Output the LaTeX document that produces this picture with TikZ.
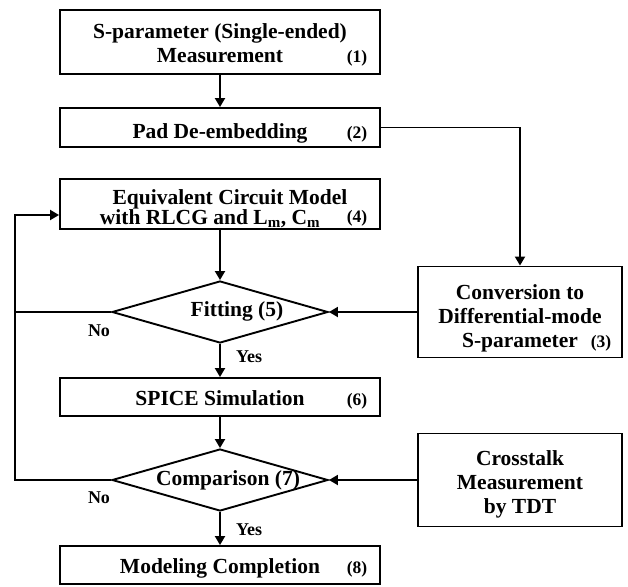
\documentclass[tikz,border=0pt]{standalone}
\usepackage{fontspec}
\setmainfont{Liberation Serif}
\usetikzlibrary{shapes.geometric,arrows.meta}
\newcommand{\stepFont}[0]{\bfseries\fontsize{21.5}{24}\selectfont}
\newcommand{\numFont}[0]{\bfseries\fontsize{17.5}{20}\selectfont}
\newcommand{\ansFont}[0]{\bfseries\fontsize{18}{20}\selectfont}

\begin{document}
\begin{tikzpicture}[x=1pt, y=-1pt, line width=1.9pt]
  \tikzset{stepbox/.style={draw,rectangle,minimum width=320pt,inner sep=0pt,align=center,font=\stepFont},
           sidebox/.style={stepbox,minimum width=204pt},
           test/.style={draw,diamond,minimum width=216pt,minimum height=62pt,inner sep=0pt},
           steptext/.style={inner sep=0pt,anchor=base,font=\stepFont},
           stepnum/.style={inner sep=0pt,anchor=base,font=\numFont},
           answer/.style={inner sep=0pt,anchor=base,font=\ansFont},
           arr/.style={-{Triangle[length=9pt,width=10pt]}}}
  \useasboundingbox (0,0) rectangle (628,586);
  \node[stepbox,minimum height=64pt,text height=42pt,text depth=0pt] (b1) at (220,42) {S-parameter (Single-ended)\\Measurement};
  \node[stepbox,minimum height=39pt,text height=21pt,text depth=0pt] (b2) at (220,127.5) {Pad De-embedding};
  \node[stepbox,minimum height=50pt,text height=40pt,text depth=0pt,font=\bfseries\fontsize{21.5}{20}\selectfont] (b4) at (220,204)
       {\hspace*{20pt}Equivalent Circuit Model\\with RLCG and L\textsubscript{m}, C\textsubscript{m}\hspace*{20pt}};
  \node[test] (d5) at (220,312) {};
  \node[steptext] (t5) at (237,316) {Fitting (5)};
  \node[stepbox,minimum height=38pt,text height=16pt,text depth=0pt] (b6) at (220,397) {SPICE Simulation};
  \node[test] (d7) at (220,480) {};
  \node[steptext] (t7) at (228,485) {Comparison (7)};
  \node[stepbox,minimum height=38pt,text height=16pt,text depth=0pt] (b8) at (220,565) {Modeling Completion};
  \node[sidebox,minimum height=91pt,text height=70pt,text depth=0pt] (b3) at (520,312) {Conversion to\\Differential-mode\\S-parameter};
  \node[sidebox,minimum height=93pt,text height=66pt,text depth=0pt] (b9) at (520,480) {Crosstalk\\Measurement\\by TDT};
  \node[stepnum] (n1) at (357,63) {(1)};
  \node[stepnum] (n2) at (357,138) {(2)};
  \node[stepnum] (n3) at (601,347) {(3)};
  \node[stepnum] (n4) at (357,222) {(4)};
  \node[stepnum] (n6) at (357,405) {(6)};
  \node[stepnum] (n8) at (357,573) {(8)};
  \node[answer] (no5) at (99,336) {No};
  \node[answer] (yes5) at (249,362) {Yes};
  \node[answer] (no7) at (99,503) {No};
  \node[answer] (yes7) at (249,535) {Yes};
  \coordinate (c7) at (15,480);
  \coordinate (c4) at ([yshift=-11pt]b4.west);
  \draw[arr] (b1) -- (b2);
  \draw[arr] (b2.east) -| (b3.north);
  \draw[arr] (b4) -- (d5);
  \draw[arr] (b3) -- (d5);
  \draw[arr] (d5) -- (b6);
  \draw[arr] (b6) -- (d7);
  \draw[arr] (b9) -- (d7);
  \draw[arr] (d7) -- (b8);
  \draw (d5.west) -- (d5.west -| c7);
  \draw[arr] (d7.west) -- (c7) |- (c4);
\end{tikzpicture}
\end{document}
